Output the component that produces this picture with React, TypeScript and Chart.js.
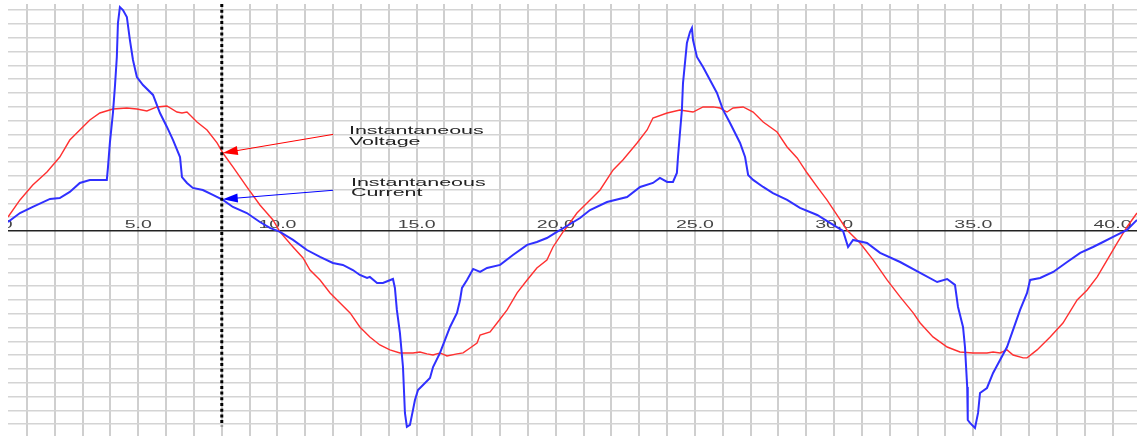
import { useEffect, useRef } from "react";
import { Chart, registerables } from "chart.js";

Chart.register(...registerables);

// Instantaneous voltage samples (time, value)
const voltageT = [
  0.32, 0.75, 1.21, 1.72, 2.18, 2.54, 2.9, 3.26, 3.62, 4.09, 4.59, 4.95, 5.31, 5.67, 6.03, 6.39, 6.57, 6.75,
  7.11, 7.47, 7.83, 8.04, 8.4, 8.9, 9.37, 9.84, 10.09, 10.56, 10.92, 11.17, 11.53, 11.89, 12.25, 12.61, 12.96,
  13.32, 13.68, 14.04, 14.4, 14.87, 15.12, 15.37, 15.59, 15.84, 16.09, 16.45, 16.67, 16.92, 17.17, 17.28,
  17.64, 17.89, 18.25, 18.61, 18.97, 19.32, 19.68, 19.9, 20.26, 20.4, 20.76, 21.23, 21.59, 22.06, 22.41,
  22.92, 23.28, 23.49, 24.0, 24.46, 24.93, 25.29, 25.65, 25.9, 26.15, 26.37, 26.73, 27.09, 27.45, 27.95,
  28.31, 28.67, 29.03, 29.39, 29.74, 30.1, 30.46, 30.93, 31.4, 31.9, 32.37, 32.84, 33.09, 33.55, 34.06,
  34.52, 34.99, 35.49, 35.71, 35.96, 36.21, 36.43, 36.79, 36.93, 37.29, 37.76, 38.22, 38.73, 39.09, 39.45,
  39.81, 40.17, 40.52, 40.88,
];
const voltageV = [
  1.01, 2.25, 3.33, 4.28, 5.36, 6.59, 7.32, 8.04, 8.55, 8.84, 8.91, 8.84, 8.7, 8.99, 9.06, 8.62, 8.55, 8.62,
  7.9, 7.32, 6.38, 5.65, 4.64, 3.19, 1.88, 0.8, -0.07, -1.16, -1.96, -2.83, -3.55, -4.49, -5.22, -5.94, -6.96,
  -7.68, -8.26, -8.62, -8.84, -8.84, -8.77, -8.91, -8.99, -8.84, -9.06, -8.91, -8.84, -8.48, -8.12, -7.54,
  -7.32, -6.67, -5.72, -4.49, -3.55, -2.68, -2.1, -1.16, -0.07, 0.29, 1.3, 2.25, 2.97, 4.42, 5.14,
  6.38, 7.32, 8.19, 8.55, 8.77, 8.62, 8.99, 8.99, 8.91, 8.62, 8.91, 8.99, 8.62, 7.9, 7.17,
  6.09, 5.29, 4.2, 3.19, 2.25, 1.16, 0.07, -0.87, -2.1, -3.55, -4.78, -5.94, -6.67, -7.68, -8.41,
  -8.77, -8.84, -8.84, -8.77, -8.84, -8.62, -8.99, -9.2, -9.2, -8.62, -7.68, -6.67, -5.0, -4.28, -3.33,
  -2.1, -0.87, 0.29, 1.3,
];

// Instantaneous current samples (time, value)
const currentT = [
  0.32, 0.75, 1.21, 1.83, 2.18, 2.54, 2.9, 3.26, 3.87, 3.91, 3.98, 4.09, 4.16, 4.23, 4.27, 4.34, 4.45, 4.59,
  4.7, 4.81, 4.95, 5.17, 5.53, 5.78, 6.03, 6.25, 6.5, 6.57, 6.75, 6.96, 7.32, 7.68, 8.04, 8.4, 8.9, 9.37,
  9.73, 10.09, 10.56, 11.06, 11.53, 11.99, 12.35, 12.71, 12.96, 13.22, 13.32, 13.58, 13.79, 14.15, 14.22,
  14.29, 14.4, 14.51, 14.58, 14.65, 14.76, 14.87, 14.94, 15.05, 15.23, 15.48, 15.59, 15.84, 16.02, 16.2,
  16.45, 16.56, 16.63, 16.81, 17.03, 17.28, 17.53, 18.0, 18.46, 18.97, 19.32, 19.68, 20.04, 20.4, 20.87,
  21.23, 21.84, 22.56, 23.03, 23.49, 23.74, 24.0, 24.21, 24.35, 24.39, 24.46, 24.53, 24.57, 24.71, 24.82,
  24.89, 24.93, 25.07, 25.29, 25.54, 25.79, 26.01, 26.26, 26.62, 26.8, 26.91, 27.09, 27.45, 27.8, 28.31,
  28.77, 29.39, 29.85, 30.32, 30.5, 30.68, 31.18, 31.65, 32.37, 33.09, 33.7, 34.06, 34.34, 34.45, 34.63,
  34.7, 34.78, 34.8, 34.88, 35.06, 35.17, 35.24, 35.49, 35.71, 35.96, 36.21, 36.39, 36.68, 36.93, 37.04,
  37.4, 37.87, 38.37, 38.84, 39.3, 39.66, 40.02, 40.52, 40.88,
];
const currentI = [
  0.65, 1.3, 1.74, 2.32, 2.39, 2.83, 3.48, 3.7, 3.7, 4.57, 6.38, 8.55, 10.43, 12.61, 15.07, 16.23, 16.01, 15.51,
  13.84, 12.39, 11.16, 10.58, 9.86, 8.55, 7.54, 6.59, 5.36, 3.91, 3.48, 3.12, 2.97, 2.61, 2.25, 1.74, 1.3, 0.65,
  0.22, -0.07, -0.65, -1.38, -1.88, -2.32, -2.46, -2.83, -3.19, -3.41, -3.33, -3.77, -3.77, -3.48, -4.13,
  -5.72, -7.39, -9.86, -13.19, -14.2, -14.06, -12.97, -12.25, -11.52, -11.16, -10.65, -9.86, -8.84, -7.9, -6.96,
  -5.94, -5.0, -4.13, -3.55, -2.75, -2.97, -2.68, -2.46, -1.74, -1.01, -0.8, -0.51, -0.07, 0.36, 0.94,
  1.52, 2.1, 2.46, 3.19, 3.48, 3.84, 3.55, 3.55, 4.2, 5.36, 7.1, 8.77, 10.72, 13.62, 14.42,
  14.71, 13.84, 12.61, 11.88, 10.94, 10.0, 8.77, 7.83, 6.38, 5.36, 4.06, 3.7, 3.19, 2.75, 2.25,
  1.67, 1.16, 0.58, 0.0, -1.16, -0.65, -0.87, -1.59, -2.25, -3.04, -3.7, -3.48, -3.91, -5.51, -6.96,
  -8.41, -11.3, -13.7, -13.91, -14.28, -13.19, -11.74, -11.38, -10.29, -9.35, -8.41, -7.39, -5.72, -4.49, -3.55,
  -3.41, -2.97, -2.25, -1.59, -1.16, -0.8, -0.43, 0.07, 0.8,
];

// Labelled time ticks along the zero line
const tickLabels = [0, 5, 10, 15, 20, 25, 30, 35, 40];

// Sampling instant marked by the dotted cursor, and the readings there
const cursorT = 8;
const cursorVoltage = 5.65;
const cursorCurrent = 2.3;

const X_MIN = 0.32;
const X_MAX = 40.88;
const Y_MIN = -14.86;
const Y_MAX = 16.45;
const CURSOR_BOTTOM = -14.15;

const toPoints = (t: number[], v: number[]) => t.map((x, i) => ({ x, y: v[i] }));

function drawWideText(ctx: CanvasRenderingContext2D, text: string, x: number, y: number, align: CanvasTextAlign) {
  ctx.save();
  ctx.translate(x, y);
  ctx.scale(1.95, 1);
  ctx.textAlign = align;
  ctx.textBaseline = "middle";
  ctx.fillText(text, 0, 0);
  ctx.restore();
}

function drawArrow(ctx: CanvasRenderingContext2D, x0: number, y0: number, x1: number, y1: number, color: string) {
  const ang = Math.atan2(y1 - y0, x1 - x0);
  const len = 15;
  const half = 4.5;
  ctx.save();
  ctx.strokeStyle = color;
  ctx.fillStyle = color;
  ctx.lineWidth = 1;
  ctx.beginPath();
  ctx.moveTo(x0, y0);
  ctx.lineTo(x1 - Math.cos(ang) * len * 0.8, y1 - Math.sin(ang) * len * 0.8);
  ctx.stroke();
  ctx.beginPath();
  ctx.moveTo(x1, y1);
  ctx.lineTo(x1 - Math.cos(ang) * len - Math.sin(ang) * half, y1 - Math.sin(ang) * len + Math.cos(ang) * half);
  ctx.lineTo(x1 - Math.cos(ang) * len + Math.sin(ang) * half, y1 - Math.sin(ang) * len - Math.cos(ang) * half);
  ctx.closePath();
  ctx.fill();
  ctx.restore();
}

const axisLabelsPlugin = {
  id: "axisLabels",
  beforeDatasetsDraw(chart: any) {
    const { ctx, chartArea, scales } = chart;
    const xs = scales.x;
    const ys = scales.y;
    ctx.save();
    ctx.beginPath();
    ctx.rect(chartArea.left, chartArea.top, chartArea.right - chartArea.left, chartArea.bottom - chartArea.top);
    ctx.clip();
    ctx.font = '10px "Liberation Sans", Arial, sans-serif';
    ctx.fillStyle = "#444";
    const y = ys.getPixelForValue(0) - 6;
    for (const v of tickLabels) {
      drawWideText(ctx, v.toFixed(1), xs.getPixelForValue(v), y, "center");
    }
    ctx.restore();
  },
};

const annotationPlugin = {
  id: "readingNotes",
  afterDatasetsDraw(chart: any) {
    const { ctx, scales } = chart;
    const xs = scales.x;
    const ys = scales.y;
    const tipX = xs.getPixelForValue(cursorT) + 1;
    const tailX = xs.getPixelForValue(12.0);

    drawArrow(ctx, tailX, ys.getPixelForValue(7.0), tipX, ys.getPixelForValue(cursorVoltage), "#ff0000");
    drawArrow(ctx, tailX, ys.getPixelForValue(2.95), tipX, ys.getPixelForValue(cursorCurrent), "#0000ff");

    ctx.save();
    ctx.font = '11px "Liberation Sans", Arial, sans-serif';
    ctx.fillStyle = "#222";
    const vx = xs.getPixelForValue(12.57);
    drawWideText(ctx, "Instantaneous", vx, ys.getPixelForValue(7.25), "left");
    drawWideText(ctx, "Voltage", vx, ys.getPixelForValue(6.45), "left");
    const cx = xs.getPixelForValue(12.64);
    drawWideText(ctx, "Instantaneous", cx, ys.getPixelForValue(3.48), "left");
    drawWideText(ctx, "Current", cx, ys.getPixelForValue(2.72), "left");
    ctx.restore();
  },
};

export default function App() {
  const canvasRef = useRef<HTMLCanvasElement | null>(null);

  useEffect(() => {
    const canvas = canvasRef.current;
    if (!canvas) return;
    const chart = new Chart(canvas, {
      type: "line",
      data: {
        datasets: [
          {
            label: "Cursor",
            data: [
              { x: cursorT, y: Y_MAX },
              { x: cursorT, y: CURSOR_BOTTOM },
            ],
            borderColor: "#000",
            borderWidth: 3,
            borderDash: [3, 2.7],
            pointRadius: 0,
            order: 0,
          },
          {
            label: "Instantaneous Voltage",
            data: toPoints(voltageT, voltageV),
            borderColor: "#ff3030",
            borderWidth: 1.4,
            pointRadius: 0,
            tension: 0,
            order: 2,
          },
          {
            label: "Instantaneous Current",
            data: toPoints(currentT, currentI),
            borderColor: "#3030ff",
            borderWidth: 2,
            pointRadius: 0,
            tension: 0,
            order: 1,
          },
        ],
      },
      options: {
        animation: false,
        responsive: false,
        devicePixelRatio: 1,
        parsing: false,
        layout: { padding: { left: 8, top: 4, right: 0, bottom: 0 } },
        plugins: { legend: { display: false }, tooltip: { enabled: false } },
        events: [],
        scales: {
          x: {
            type: "linear",
            min: X_MIN,
            max: X_MAX,
            border: { display: false },
            ticks: { display: false, stepSize: 1, includeBounds: false, maxTicksLimit: 100 },
            grid: { color: "#cfcfcf", lineWidth: 2, drawTicks: false },
          },
          y: {
            type: "linear",
            min: Y_MIN,
            max: Y_MAX,
            border: { display: false },
            ticks: { display: false, stepSize: 1, includeBounds: false, maxTicksLimit: 100 },
            grid: {
              drawTicks: false,
              color: (c: any) => (c.tick && c.tick.value === 0 ? "#222" : "#d4d4d4"),
              lineWidth: 1.5,
            },
          },
        },
      },
      plugins: [axisLabelsPlugin, annotationPlugin],
    });
    return () => chart.destroy();
  }, []);

  return (
    <div style={{ position: "fixed", left: 0, top: 0, width: 1137, height: 436, background: "#fff" }}>
      <canvas ref={canvasRef} width={1137} height={436} style={{ display: "block" }} />
    </div>
  );
}
